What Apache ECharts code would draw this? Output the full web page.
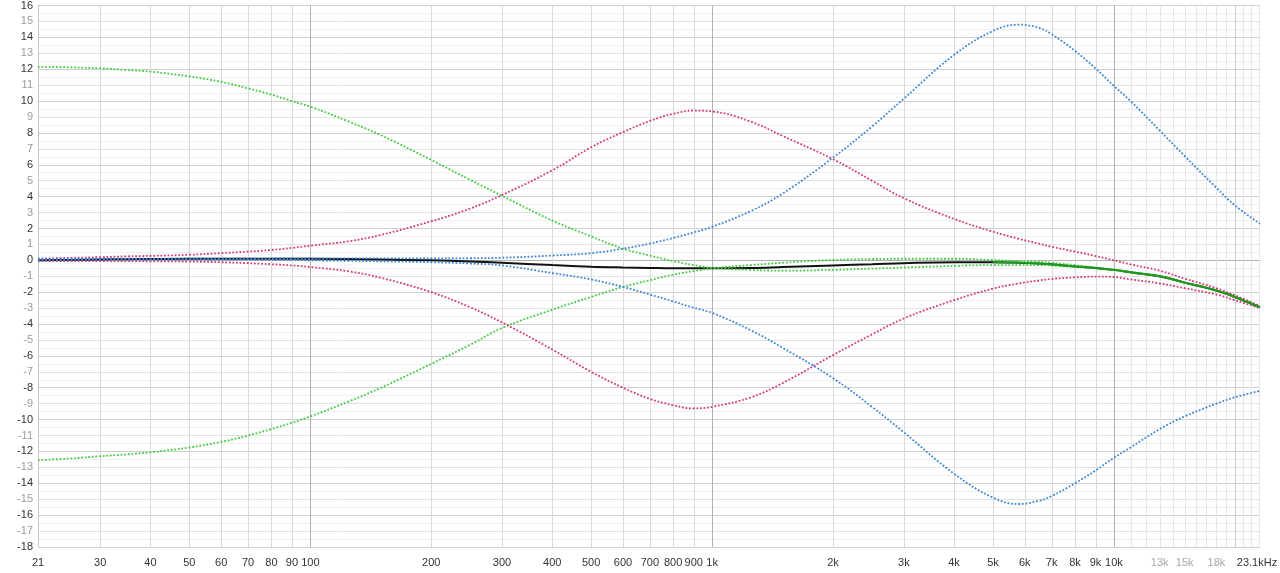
<!DOCTYPE html>
<html><head><meta charset="utf-8">
<script src="https://cdn.jsdelivr.net/npm/echarts@6/dist/echarts.min.js"></script>
<style>html,body{margin:0;padding:0;background:#fff}#c{width:1280px;height:573px}</style>
</head><body><div id="c"></div>
<script>
const freqs = [21,25,30,35,40,50,60,70,80,90,100,125,150,200,250,300,400,500,600,700,800,900,1000,1250,1500,2000,2500,3000,4000,5000,5800,6500,7000,8000,9000,10000,11000,13000,15000,18000,20000,23100];

const baseLine  = [0.0,0.02,0.05,0.07,0.08,0.1,0.1,0.1,0.1,0.1,0.1,0.08,0.05,0.0,-0.07,-0.15,-0.3,-0.4,-0.45,-0.48,-0.5,-0.5,-0.5,-0.48,-0.42,-0.32,-0.25,-0.18,-0.12,-0.12,-0.15,-0.2,-0.25,-0.38,-0.48,-0.6,-0.75,-1.0,-1.4,-1.9,-2.3,-2.95];
const shelfBoost = [12.15,12.12,12.05,11.95,11.85,11.55,11.2,10.8,10.4,10.0,9.65,8.7,7.85,6.3,5.05,4.05,2.5,1.5,0.73,0.3,-0.05,-0.3,-0.47,-0.6,-0.65,-0.6,-0.52,-0.45,-0.35,-0.3,-0.3,-0.3,-0.33,-0.42,-0.5,-0.62,-0.77,-1.02,-1.42,-1.92,-2.32,-2.97];
const shelfCut   = [-12.55,-12.45,-12.3,-12.18,-12.05,-11.75,-11.4,-11.0,-10.6,-10.2,-9.8,-8.85,-8.0,-6.5,-5.3,-4.25,-3.1,-2.3,-1.67,-1.25,-0.9,-0.68,-0.5,-0.3,-0.15,0.02,0.08,0.1,0.1,0.02,-0.05,-0.1,-0.15,-0.3,-0.45,-0.58,-0.73,-0.98,-1.38,-1.88,-2.28,-2.93];
const midBoost   = [0.1,0.15,0.2,0.25,0.28,0.35,0.45,0.55,0.65,0.78,0.92,1.2,1.6,2.45,3.25,4.1,5.65,7.1,8.05,8.75,9.2,9.4,9.35,8.7,7.8,6.35,5.0,3.9,2.6,1.8,1.35,1.05,0.85,0.55,0.27,0.0,-0.25,-0.65,-1.15,-1.75,-2.2,-2.85];
const midCut     = [-0.05,-0.05,-0.05,-0.05,-0.06,-0.08,-0.12,-0.18,-0.25,-0.32,-0.42,-0.7,-1.1,-2.0,-2.95,-3.9,-5.6,-7.0,-8.0,-8.7,-9.1,-9.3,-9.2,-8.6,-7.7,-5.95,-4.65,-3.65,-2.5,-1.78,-1.45,-1.27,-1.17,-1.07,-1.02,-1.05,-1.2,-1.45,-1.75,-2.15,-2.5,-3.0];
const highBoost  = [0.1,0.1,0.1,0.1,0.1,0.1,0.1,0.11,0.11,0.12,0.12,0.12,0.12,0.12,0.13,0.16,0.3,0.45,0.73,1.05,1.4,1.75,2.1,3.1,4.2,6.45,8.4,10.15,12.9,14.4,14.8,14.6,14.2,13.15,12.05,10.95,10.0,8.15,6.55,4.55,3.45,2.3];
const highCut    = [0.0,0.02,0.05,0.05,0.05,0.05,0.05,0.04,0.03,0.02,0.0,-0.03,-0.06,-0.12,-0.2,-0.32,-0.8,-1.2,-1.67,-2.15,-2.58,-2.98,-3.3,-4.4,-5.5,-7.4,-9.2,-10.8,-13.4,-14.9,-15.3,-15.1,-14.8,-14.0,-13.2,-12.4,-11.75,-10.6,-9.8,-9.0,-8.6,-8.2];
const greenFreqs = [5000,5800,6500,7000,8000,9000,10000,11000,13000,15000,18000,20000,23100];
const greenSolid = [-0.12,-0.15,-0.2,-0.26,-0.39,-0.49,-0.6,-0.75,-1.0,-1.4,-1.9,-2.3,-2.95];

const xTickFreqs  = [21,30,40,50,60,70,80,90,100,200,300,400,500,600,700,800,900,1000,2000,3000,4000,5000,6000,7000,8000,9000,10000,13000,15000,18000,23100];
const xTickLabels = ['21','30','40','50','60','70','80','90','100','200','300','400','500','600','700','800','900','1k','2k','3k','4k','5k','6k','7k','8k','9k','10k','13k','15k','18k','23.1kHz'];
const xGrayLabels = ['13k','15k','18k'];
const xMajorLines = [100,1000,10000];
const xMidLines   = [20000];
const xMinorLines = [30,40,50,60,70,80,90,200,300,400,500,600,700,800,900,2000,3000,4000,5000,6000,7000,8000,9000];
const xFineLines  = [11000,12000,13000,14000,15000,16000,17000,18000,19000,21000,22000,23000];
const yMin = -18, yMax = 16;

const pairs = (xs, ys) => xs.map((f, i) => [f, ys[i]]);

const lineColors = ['#e6e6e6', '#d9d9d9', '#cbcbcb', '#b2b2b2'];
const gridItems = [];
xFineLines.forEach(f => gridItems.push([f, 0]));
xMinorLines.forEach(f => gridItems.push([f, 1]));
xMidLines.forEach(f => gridItems.push([f, 2]));
xMajorLines.forEach(f => gridItems.push([f, 3]));

const dotted = (name, data, color) => ({
  name, type: 'line', data: pairs(freqs, data), smooth: 0.4, showSymbol: false, silent: true,
  lineStyle: {color, width: 1.8, type: 'dotted'}, z: 3
});

const chart = echarts.init(document.getElementById('c'), null, {renderer: 'canvas'});
chart.setOption({
  animation: false,
  backgroundColor: '#fff',
  grid: {left: 38, right: 20, top: 5, bottom: 26, containLabel: false},
  xAxis: {
    type: 'log', logBase: 10, min: 21, max: 23100,
    axisLine: {show: true, lineStyle: {color: '#b0b0b0'}},
    axisTick: {show: false}, axisLabel: {show: false},
    minorTick: {show: false},
    splitLine: {show: false}, minorSplitLine: {show: false}
  },
  yAxis: {
    type: 'value', min: yMin, max: yMax, interval: 1,
    axisLine: {show: true, lineStyle: {color: '#c8c8c8'}},
    axisTick: {show: false},
    axisLabel: {fontSize: 11, fontFamily: 'Liberation Sans, Arial, sans-serif', margin: 5,
      color: v => (Math.abs(v) % 2 === 0 ? '#333' : '#9a9a9a')},
    splitLine: {show: true, lineStyle: {color: ['#d0d0d0', '#e2e2e2'], width: 1}},
    minorTick: {show: false, splitNumber: 2},
    minorSplitLine: {show: true, lineStyle: {color: '#efefef', width: 1}}
  },
  series: [
    {name: 'xgrid', type: 'custom', silent: true, z: 1, clip: false,
     data: gridItems,
     renderItem: (params, api) => {
       const f = api.value(0), k = api.value(1);
       const p0 = api.coord([f, yMin]), p1 = api.coord([f, yMax]);
       const x = Math.round(p0[0]) + 0.5;
       return {type: 'line', shape: {x1: x, y1: p0[1], x2: x, y2: p1[1]},
               style: {stroke: lineColors[k], lineWidth: 1}};
     }},
    {name: 'xlabels', type: 'custom', silent: true, z: 5, clip: false,
     data: xTickFreqs.map((f, i) => [f, i]),
     renderItem: (params, api) => {
       const f = api.value(0), i = api.value(1);
       const txt = xTickLabels[i];
       const p = api.coord([f, yMin]);
       const last = i === xTickFreqs.length - 1;
       return {type: 'text', x: p[0] - (last ? 3 : 0), y: p[1] + 10,
               style: {text: txt, textAlign: 'center', textVerticalAlign: 'top',
                       fill: xGrayLabels.includes(txt) ? '#a8a8a8' : '#333',
                       font: '11px "Liberation Sans", Arial, sans-serif'}};
     }},
    {name: 'base', type: 'line', data: pairs(freqs, baseLine), smooth: 0.4, showSymbol: false, silent: true,
     lineStyle: {color: '#111', width: 2}, z: 2},
    dotted('shelfBoost', shelfBoost, '#3fcc3f'),
    dotted('shelfCut', shelfCut, '#3fcc3f'),
    dotted('midBoost', midBoost, '#d8387a'),
    dotted('midCut', midCut, '#d8387a'),
    dotted('highBoost', highBoost, '#3c86d8'),
    dotted('highCut', highCut, '#3c86d8'),
    {name: 'result', type: 'line', data: pairs(greenFreqs, greenSolid), smooth: 0.4, showSymbol: false, silent: true,
     lineStyle: {color: '#1f9a1f', width: 2}, z: 4}
  ]
});
</script></body></html>
